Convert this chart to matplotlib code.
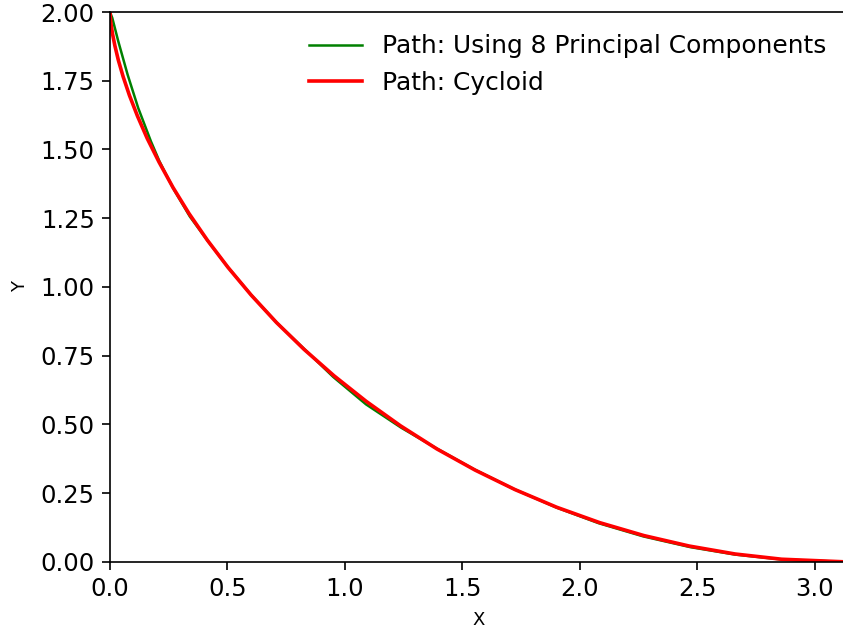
import matplotlib
matplotlib.use("Agg")
import matplotlib.pyplot as plt
import numpy as np

# points (x, y)
cycloid_x = [0.0, 0.0002, 0.0013, 0.0045, 0.0106, 0.0206, 0.0354, 0.0558, 0.0826,
             0.1167, 0.1585, 0.2088, 0.268, 0.3364, 0.4146, 0.5025, 0.6004, 0.7083,
             0.8262, 0.9537, 1.0907, 1.2368, 1.3915, 1.5543, 1.7245, 1.9015, 2.0845,
             2.2726, 2.465, 2.6608, 2.8589, 3.1416]
cycloid_y = [2.0, 1.995, 1.98, 1.955, 1.921, 1.878, 1.825, 1.765, 1.697, 1.622,
             1.54, 1.454, 1.362, 1.267, 1.17, 1.071, 0.971, 0.871, 0.773, 0.677,
             0.584, 0.495, 0.411, 0.334, 0.263, 0.199, 0.143, 0.096, 0.058, 0.029,
             0.01, 0.0]

pc_x = [0.0, 0.0098, 0.035, 0.075, 0.12, 0.174, 0.21, 0.27, 0.34, 0.42, 0.5,
        0.6, 0.71, 0.83, 0.95, 1.09, 1.24, 1.39, 1.55, 1.72, 1.9, 2.08, 2.27,
        2.47, 2.66, 2.86, 3.1416]
pc_y = [2.0, 1.978, 1.894, 1.772, 1.651, 1.53, 1.458, 1.357, 1.256, 1.163,
        1.074, 0.972, 0.87, 0.772, 0.673, 0.573, 0.488, 0.413, 0.337, 0.265,
        0.198, 0.141, 0.093, 0.054, 0.027, 0.009, 0.0]

plt.rcParams["font.family"] = "DejaVu Sans"

fig = plt.figure(figsize=(8.43, 6.32), dpi=100)
ax = fig.add_axes([0.1305, 0.1108, 0.8755, 0.8702])

ax.plot(pc_x, pc_y, color="green", lw=1.8, label="Path: Using 8 Principal Components")
ax.plot(cycloid_x, cycloid_y, color="red", lw=2.6, label="Path: Cycloid")

ax.set_xlim(0, np.pi)
ax.set_ylim(0, 2)
ax.set_xticks(np.arange(0, 3.01, 0.5))
ax.set_yticks(np.arange(0, 2.01, 0.25))
ax.set_xticklabels(["0.0", "0.5", "1.0", "1.5", "2.0", "2.5", "3.0"])
ax.set_yticklabels(["%.2f" % v for v in np.arange(0, 2.01, 0.25)])
ax.tick_params(labelsize=17.5, length=6, width=1.2, pad=5)
for s in ax.spines.values():
    s.set_linewidth(1.2)

ax.set_xlabel("X", fontsize=13, labelpad=7)
ax.set_ylabel("Y", fontsize=13, labelpad=8)

ax.legend(loc="upper right", frameon=False, fontsize=17.9, handlelength=2.15,
          bbox_to_anchor=(1.001, 1.0))

fig.savefig("out.png", dpi=100)
